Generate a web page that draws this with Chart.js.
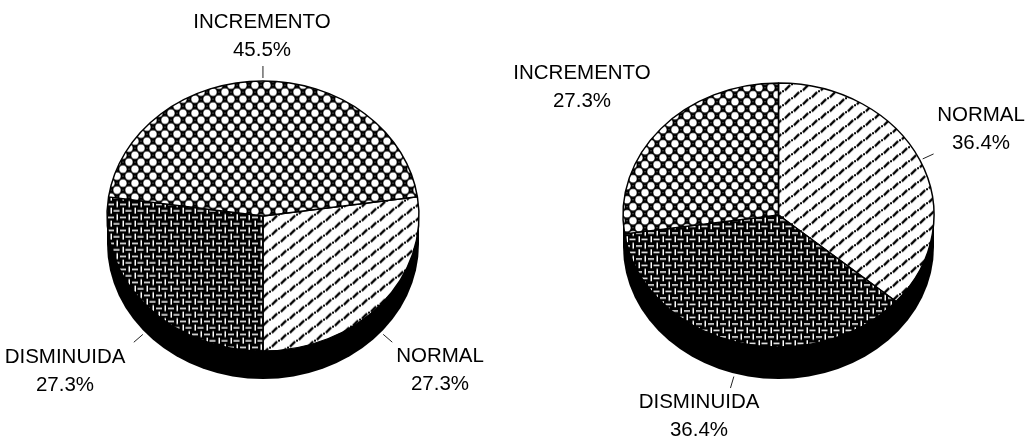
<!DOCTYPE html>
<html>
<head>
<meta charset="utf-8">
<title>Pie charts</title>
<script src="https://cdn.jsdelivr.net/npm/chart.js@4/dist/chart.umd.min.js"></script>
<style>
    html, body { margin: 0; padding: 0; background: #fff; }
    #wrap { position: relative; width: 1026px; height: 440px; overflow: hidden; }
    canvas { position: absolute; left: 0; top: 0; }
</style>
</head>
<body>
<div id="wrap">
    <canvas id="pieLeft" width="1026" height="440"></canvas>
    <canvas id="pieRight" width="1026" height="440"></canvas>
</div>
<script>
var categories = ['NORMAL', 'DISMINUIDA', 'INCREMENTO'];
var leftValues = [27.3, 27.3, 45.5];
var rightValues = [36.4, 36.4, 27.3];

function makeTile(w, h, paint) {
    var c = document.createElement('canvas');
    c.width = w;
    c.height = h;
    paint(c.getContext('2d'));
    return c;
}

// white circles on black, with a grey speck in the gaps
function circleTile() {
    return makeTile(12, 14, function (g) {
        g.fillStyle = '#000';
        g.fillRect(0, 0, 12, 14);
        g.fillStyle = '#fff';
        [[3, 3.5], [9, 10.5], [-3, 10.5], [15, 3.5], [3, 17.5], [9, -3.5]].forEach(function (p) {
            g.beginPath();
            g.arc(p[0], p[1], 3.7, 0, Math.PI * 2);
            g.fill();
        });
        g.fillStyle = '#888';
        g.fillRect(8.5, 3, 1, 1);
        g.fillRect(2.5, 10, 1, 1);
    });
}

// white basket weave on black
function weaveTile() {
    return makeTile(12, 13, function (g) {
        g.fillStyle = '#000';
        g.fillRect(0, 0, 12, 13);
        g.fillStyle = '#fff';
        g.fillRect(2.5, 0, 1.5, 6);
        g.fillRect(5.5, 2.5, 6, 1.5);
        g.fillRect(8.5, 6.5, 1.5, 6);
        g.fillRect(0, 9, 6, 1.5);
    });
}

// dash-dot diagonals on white
function diagonalTile() {
    return makeTile(18, 14, function (g) {
        g.fillStyle = '#fff';
        g.fillRect(0, 0, 18, 14);
        g.strokeStyle = '#000';
        g.fillStyle = '#000';
        g.lineWidth = 2.2;
        [[4.5, 10.5], [13.5, 3.5]].forEach(function (p) {
            g.beginPath();
            g.moveTo(p[0] - 2.6, p[1] + 2.6);
            g.lineTo(p[0] + 2.6, p[1] - 2.6);
            g.stroke();
        });
        [[9, 7], [0, 0], [18, 0], [0, 14], [18, 14]].forEach(function (p) {
            g.fillRect(p[0] - 1, p[1] - 1, 2, 2);
        });
    });
}

var tiltedPie = {
    id: 'tiltedPie',
    beforeDatasetsDraw: function (chart, args, opts) {
        var ctx = chart.ctx;
        var arc = chart.getDatasetMeta(0).data[0];
        var rx = arc.outerRadius;
        var ry = rx * opts.tilt;
        ctx.save();
        // side wall under the top face
        ctx.fillStyle = '#000';
        ctx.beginPath();
        ctx.ellipse(arc.x, opts.centerY + opts.depth, rx, ry, 0, 0, Math.PI * 2);
        ctx.fill();
        ctx.fillRect(arc.x - rx, opts.centerY, rx * 2, opts.depth);
        // squash the circle into the top face
        ctx.translate(arc.x, opts.centerY);
        ctx.scale(1, opts.tilt);
        ctx.translate(-arc.x, -arc.y);
    },
    afterDatasetsDraw: function (chart) {
        chart.ctx.restore();
    },
    afterDraw: function (chart, args, opts) {
        var ctx = chart.ctx;
        var values = chart.data.datasets[0].data;
        ctx.save();
        ctx.strokeStyle = '#222';
        ctx.lineWidth = 1;
        chart.getDatasetMeta(0).data.forEach(function (arc, i) {
            var mid = (arc.startAngle + arc.endAngle) / 2;
            var cos = Math.cos(mid);
            var sin = Math.sin(mid);
            if (opts.leaders[i]) {
                var x = arc.x + arc.outerRadius * cos;
                var y = opts.centerY + arc.outerRadius * opts.tilt * sin + (sin > 0.05 ? opts.depth : 0);
                ctx.beginPath();
                ctx.moveTo(x + cos * 3, y + sin * 3);
                ctx.lineTo(x + cos * 15, y + sin * 15);
                ctx.stroke();
            }
            var pos = opts.labelPos[i];
            ctx.fillStyle = '#000';
            ctx.font = '20.5px "Liberation Sans"';
            ctx.textAlign = 'center';
            ctx.textBaseline = 'middle';
            ctx.fillText(chart.data.labels[i], pos[0], pos[1]);
            ctx.fillText(values[i].toFixed(1) + '%', pos[0], pos[1] + 28);
        });
        ctx.restore();
    }
};

function drawPie(id, values, rotation, layout) {
    var ctx = document.getElementById(id).getContext('2d');
    var tilt = layout.ry / layout.rx;
    var fills = [diagonalTile(), weaveTile(), circleTile()].map(function (tile) {
        var p = ctx.createPattern(tile, 'repeat');
        // keep the hatching undistorted on the squashed face
        p.setTransform(new DOMMatrix().scale(1, 1 / tilt));
        return p;
    });
    var size = layout.rx * 2 + 1.5;
    return new Chart(ctx, {
        type: 'pie',
        data: {
            labels: categories,
            datasets: [{
                data: values,
                backgroundColor: fills,
                borderColor: '#000',
                borderWidth: 1.5,
                clip: false
            }]
        },
        options: {
            responsive: false,
            animation: false,
            rotation: rotation,
            layout: {
                padding: {
                    left: layout.cx - size / 2,
                    right: 1026 - layout.cx - size / 2,
                    top: 220 - size / 2,
                    bottom: 220 - size / 2
                }
            },
            plugins: {
                legend: { display: false },
                tooltip: { enabled: false },
                tiltedPie: {
                    tilt: tilt,
                    depth: layout.depth,
                    centerY: layout.cy,
                    leaders: layout.leaders,
                    labelPos: layout.labelPos
                }
            }
        },
        plugins: [tiltedPie]
    });
}

drawPie('pieLeft', leftValues, 81.8, {
    cx: 263, cy: 216, rx: 156, ry: 135, depth: 28,
    leaders: [true, true, true],
    labelPos: [[440, 356], [65, 357], [262, 22]]
});

drawPie('pieRight', rightValues, 0, {
    cx: 778.5, cy: 215, rx: 155.5, ry: 132, depth: 32,
    leaders: [true, true, false],
    labelPos: [[981, 115], [699, 402], [582, 73]]
});
</script>
</body>
</html>
